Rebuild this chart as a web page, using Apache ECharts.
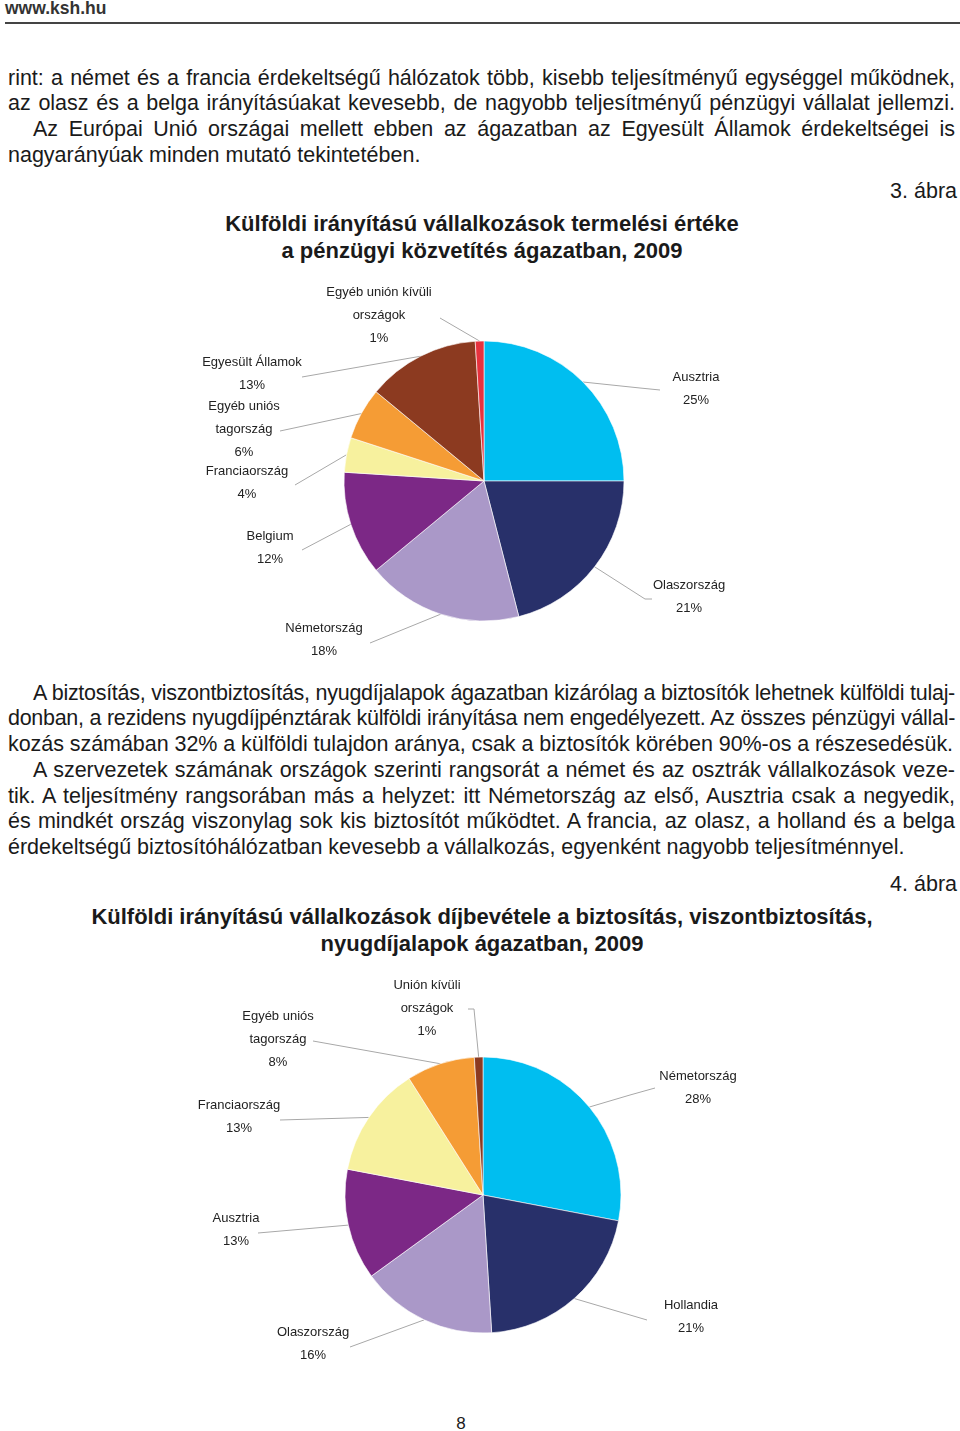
<!DOCTYPE html>
<html><head><meta charset="utf-8">
<script src="https://cdn.jsdelivr.net/npm/echarts@6/dist/echarts.min.js"></script>
<style>
html,body{margin:0;padding:0;background:#fff;}
body{width:960px;height:1431px;position:relative;overflow:hidden;font-family:"Liberation Sans",Arial,sans-serif;color:#1a1a1a;}
.ln{position:absolute;left:8px;width:947px;font-size:21.5px;line-height:26px;height:26px;white-space:nowrap;}
.j{text-align:justify;text-align-last:justify;}
.ttl{position:absolute;left:0;width:964px;text-align:center;font-weight:bold;font-size:22px;line-height:27px;color:#1a1a1a;}
#chart{position:absolute;left:0;top:0;width:960px;height:1431px;}
</style></head>
<body>
<div style="position:absolute;left:5px;top:-2px;font-weight:bold;font-size:17.5px;line-height:21px;color:#333;">www.ksh.hu</div>
<div style="position:absolute;left:5px;top:22px;width:955px;height:2px;background:#444;"></div>

<div class="ln j" style="top:65px;">rint: a német és a francia érdekeltségű hálózatok több, kisebb teljesítményű egységgel működnek,</div>
<div class="ln j" style="top:90px;">az olasz és a belga irányításúakat kevesebb, de nagyobb teljesítményű pénzügyi vállalat jellemzi.</div>
<div class="ln j" style="top:116px;left:33px;width:922px;">Az Európai Unió országai mellett ebben az ágazatban az Egyesült Államok érdekeltségei is</div>
<div class="ln" style="top:142px;">nagyarányúak minden mutató tekintetében.</div>
<div class="ln" style="top:178px;text-align:right;left:700px;width:257px;">3. ábra</div>

<div class="ttl" style="top:210px;">Külföldi irányítású vállalkozások termelési értéke<br>a pénzügyi közvetítés ágazatban, 2009</div>

<div class="ln j" style="top:680px;left:33px;width:922px;">A biztosítás, viszontbiztosítás, nyugdíjalapok ágazatban kizárólag a biztosítók lehetnek külföldi tulaj-</div>
<div class="ln j" style="top:705px;">donban, a rezidens nyugdíjpénztárak külföldi irányítása nem engedélyezett. Az összes pénzügyi vállal-</div>
<div class="ln" style="top:731px;">kozás számában 32% a külföldi tulajdon aránya, csak a biztosítók körében 90%-os a részesedésük.</div>
<div class="ln j" style="top:757px;left:33px;width:922px;">A szervezetek számának országok szerinti rangsorát a német és az osztrák vállalkozások veze-</div>
<div class="ln j" style="top:783px;">tik. A teljesítmény rangsorában más a helyzet: itt Németország az első, Ausztria csak a negyedik,</div>
<div class="ln j" style="top:808px;">és mindkét ország viszonylag sok kis biztosítót működtet. A francia, az olasz, a holland és a belga</div>
<div class="ln" style="top:834px;">érdekeltségű biztosítóhálózatban kevesebb a vállalkozás, egyenként nagyobb teljesítménnyel.</div>
<div class="ln" style="top:871px;text-align:right;left:700px;width:257px;">4. ábra</div>

<div class="ttl" style="top:903px;">Külföldi irányítású vállalkozások díjbevétele a biztosítás, viszontbiztosítás,<br>nyugdíjalapok ágazatban, 2009</div>

<div style="position:absolute;left:440px;width:42px;text-align:center;top:1413px;font-size:17px;line-height:22px;">8</div>

<div id="chart"></div>
<script>
// fit each text line into its box (condense if too wide)
document.querySelectorAll('.ln').forEach(function(el){
  const target = el.clientWidth;
  const span = document.createElement('span');
  span.textContent = el.textContent;
  span.style.whiteSpace = 'nowrap';
  el.textContent = '';
  el.appendChild(span);
  const w = span.getBoundingClientRect().width;
  if (w > target - 2) {
    const n = span.textContent.length;
    el.style.letterSpacing = ((target - 2 - w) / n) + 'px';
  }
  el.textContent = span.textContent;
  if (el.classList.contains('j')) el.style.whiteSpace = 'normal';
});

// Chart 1: termelési érték (%)
const names1 = ["Ausztria","Olaszország","Németország","Belgium","Franciaország","Egyéb uniós\ntagország","Egyesült Államok","Egyéb unión kívüli\nországok"];
const values1 = [25,21,18,12,4,6,13,1];
// Chart 2: díjbevétel (%)
const names2 = ["Németország","Hollandia","Olaszország","Ausztria","Franciaország","Egyéb uniós\ntagország","Unión kívüli\nországok"];
const values2 = [28,21,16,13,13,8,1];

const colors1 = ["#00BEF0","#28306A","#AA98C8","#7C2886","#F7F19E","#F59C35","#8C3A20","#E6323E"];
const colors2 = ["#00BEF0","#28306A","#AA98C8","#7C2886","#F7F19E","#F59C35","#8C3A20"];

// label layout (pixel positions of label centres and leader-line bends)
const lay1 = [
  {x:696,y:389, pts:[[640,388],[660,390]]},
  {x:689,y:597, pts:[[645,599],[652,599]]},
  {x:324,y:640, pts:[[370,643]]},
  {x:270,y:548, pts:[[302,550]]},
  {x:247,y:483, pts:[[295,485]]},
  {x:244,y:429, pts:[[280,431]]},
  {x:252,y:374, pts:[[302,377]]},
  {x:379,y:315, pts:[[440,318]]}
];
const lay2 = [
  {x:698,y:1088, pts:[[630,1095],[655,1088]]},
  {x:691,y:1317, pts:[[647,1320]]},
  {x:313,y:1344, pts:[[350,1347]]},
  {x:236,y:1230, pts:[[258,1233]]},
  {x:239,y:1117, pts:[[280,1120]]},
  {x:278,y:1039, pts:[[313,1041]]},
  {x:427,y:1008, pts:[[474,1009],[468,1009]]}
];

function makeLayout(lay, cx, cy, r, vals){
  const total = vals.reduce((a,b)=>a+b,0);
  return function(params){
    const L = lay[params.dataIndex];
    let p0 = params.labelLinePoints && params.labelLinePoints[0];
    if(!p0){
      let cum = 0; for(let i=0;i<params.dataIndex;i++) cum += vals[i];
      const a = (cum + vals[params.dataIndex]/2)/total*2*Math.PI;
      p0 = [cx + r*Math.sin(a), cy - r*Math.cos(a)];
    }
    const linePts = [p0].concat(L.pts);
    return {x:L.x, y:L.y, align:'center', verticalAlign:'middle', labelLinePoints: linePts};
  };
}

const labelFont = '"Liberation Sans",Arial,sans-serif';
function pieSeries(names, vals, cols, lay, cx, cy, r){
  return {
    type:'pie', center:[cx,cy], radius:[0,r], startAngle:90, clockwise:true,
    avoidLabelOverlap:false, animation:false, silent:true,
    data: names.map((n,i)=>({name:n, value:vals[i], itemStyle:{color:cols[i]}})),
    itemStyle:{borderColor:'#ffffff', borderWidth:0.6},
    label:{show:true, position:'outside', formatter:p=>p.name+'\n'+p.value+'%',
      fontFamily:labelFont, fontSize:13, lineHeight:23, color:'#222', align:'center'},
    labelLine:{show:true, length:10, length2:10, lineStyle:{color:'#A8A8A8', width:1}},
    labelLayout: makeLayout(lay, cx, cy, r, vals)
  };
}

const chart = echarts.init(document.getElementById('chart'), null, {renderer:'canvas'});
chart.setOption({
  animation:false,
  series:[
    pieSeries(names1, values1, colors1, lay1, 484, 481, 140),
    pieSeries(names2, values2, colors2, lay2, 483, 1195, 138)
  ]
});
</script>
</body></html>
